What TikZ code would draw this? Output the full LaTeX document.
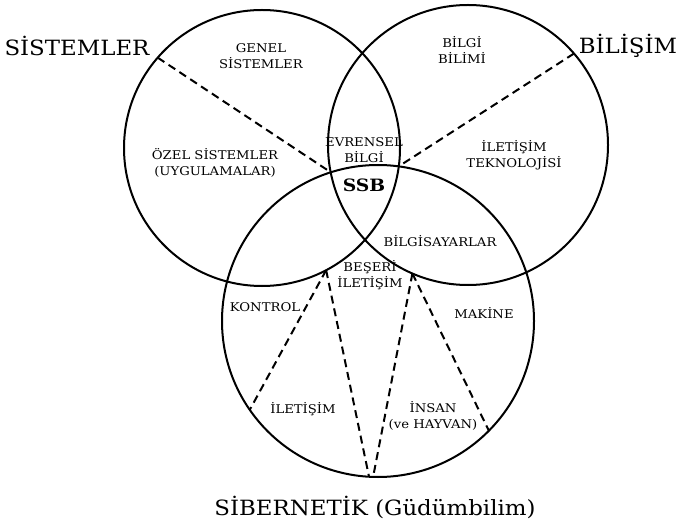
\documentclass[tikz,border=0pt]{standalone}
\usepackage{fontspec}
\setmainfont[FakeStretch=1.1]{DejaVu Serif}
\newfontfamily\bigfnt[FakeStretch=1.09]{DejaVu Serif}
\usetikzlibrary{calc}
\begin{document}
\begin{tikzpicture}[x=1pt,y=-1pt,
  circ/.style={line width=2pt},
  dsh/.style={line width=2pt, dash pattern=on 8pt off 5pt},
  big/.style={font=\bigfnt\fontsize{21}{24}\selectfont, inner sep=0pt, anchor=base},
  small/.style={font=\fontsize{12}{16.5}\selectfont, align=center, inner sep=0pt}]
\useasboundingbox (0,0) rectangle (677,521);
% circle centres
\coordinate (L) at (262,148);
\coordinate (R) at (468,145);
\coordinate (B) at (378,321);
\draw[circ] (L) circle[radius=138pt];
\draw[circ] (R) circle[radius=140pt];
\draw[circ] (B) circle[radius=156pt];
% points for dashed lines
\coordinate (lt) at ($(L)+(220.9:138)$);
\coordinate (rb) at (330.8,172.3);
\coordinate (rt) at ($(R)+(319.2:140)$);
\coordinate (lb) at (398.8,166.3);
\coordinate (ld) at ($(L)+(62.3:138)$);
\coordinate (rd) at ($(R)+(113.4:140)$);
\coordinate (e1) at ($(B)+(145.3:156)$);
\coordinate (e2) at ($(B)+(93.3:156)$);
\coordinate (e3) at ($(B)+(91.8:156)$);
\coordinate (e4) at ($(B)+(44.7:156)$);
\draw[dsh] (lt) -- (rb);
\draw[dsh] (rt) -- (lb);
\draw[dsh] (ld) -- (e1);
\draw[dsh] (ld) -- (e2);
\draw[dsh] (rd) -- (e3);
\draw[dsh] (rd) -- (e4);
% labels
\node[big] (sis) at (77,56) {SİSTEMLER};
\node[big] (bil) at (628,54) {BİLİŞİM};
\node[big] (sib) at (375,515) {SİBERNETİK (Güdümbilim)};
\node[small] (gen) at (261,56) {GENEL\\SİSTEMLER};
\node[small] (bb) at (462,50) {BİLGİ\\BİLİMİ};
\node[small] (oz) at (215,163) {ÖZEL SİSTEMLER\\(UYGULAMALAR)};
\node[small] (ev) at (364,150) {EVRENSEL\\BİLGİ};
\node[font=\fontsize{17}{20}\selectfont\bfseries, inner sep=0pt] (ssb) at (364,185) {SSB};
\node[small] (it) at (514,155) {İLETİŞİM\\TEKNOLOJİSİ};
\node[small] (bs) at (440,241) {BİLGİSAYARLAR};
\node[small] (be) at (370,275) {BEŞERİ\\İLETİŞİM};
\node[small] (ko) at (265,307) {KONTROL};
\node[small] (ma) at (484,313) {MAKİNE};
\node[small] (il) at (303,409) {İLETİŞİM};
\node[small] (in) at (433,416) {İNSAN\\(ve HAYVAN)};
\end{tikzpicture}
\end{document}
